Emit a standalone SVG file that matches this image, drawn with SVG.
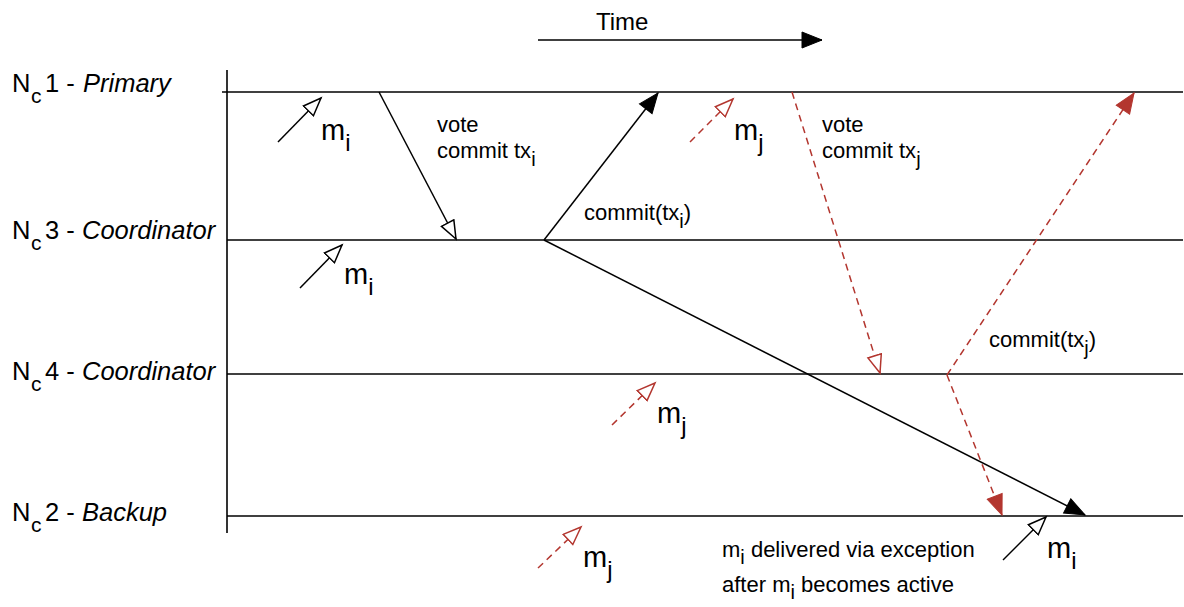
<svg xmlns="http://www.w3.org/2000/svg" width="1184" height="607" viewBox="0 0 1184 607">
<style>
text{font-family:"Liberation Sans",Arial,sans-serif;fill:#000}
.lbl{font-size:25.5px}
.it{font-style:italic}
.msg{font-size:22px}
.m{font-size:29px}
.life{stroke:#000;stroke-width:1.6;fill:none}
.blk{stroke:#000;stroke-width:1.5;fill:none}
.red{stroke:#b3362f;stroke-width:1.5;fill:none;stroke-dasharray:7 5}
</style>
<defs>
<marker id="openB" markerUnits="userSpaceOnUse" markerWidth="22" markerHeight="18" refX="19" refY="8" orient="auto" viewBox="0 0 22 18">
<path d="M1,1 L19,8 L1,15 z" fill="#fff" stroke="#000" stroke-width="1.5"/>
</marker>
<marker id="openR" markerUnits="userSpaceOnUse" markerWidth="22" markerHeight="18" refX="19" refY="8" orient="auto" viewBox="0 0 22 18">
<path d="M1,1 L19,8 L1,15 z" fill="#fff" stroke="#b3362f" stroke-width="1.5"/>
</marker>
<marker id="fillB" markerUnits="userSpaceOnUse" markerWidth="24" markerHeight="20" refX="21" refY="9" orient="auto" viewBox="0 0 24 20">
<path d="M1,1 L21,9 L1,17 z" fill="#000" stroke="#000" stroke-width="1"/>
</marker>
<marker id="fillR" markerUnits="userSpaceOnUse" markerWidth="24" markerHeight="20" refX="21" refY="9" orient="auto" viewBox="0 0 24 20">
<path d="M1,1 L21,9 L1,17 z" fill="#b3362f" stroke="#b3362f" stroke-width="1"/>
</marker>
</defs>
<rect width="1184" height="607" fill="#fff"/>

<g id="time">
<text x="596" y="30" style="font-size:24px">Time</text>
<line x1="538" y1="40" x2="822" y2="40" class="blk" marker-end="url(#fillB)"/>
</g>

<line id="axis" x1="227" y1="70" x2="227" y2="533" class="life"/>

<g id="nc1">
<line x1="222" y1="92" x2="1183" y2="92" class="life"/>
<text x="12" y="92" class="lbl">N<tspan x="31" dy="11" font-size="21">c</tspan><tspan x="45" dy="-11">1 - </tspan><tspan x="83" class="it">Primary</tspan></text>
</g>
<g id="nc3">
<line x1="227" y1="240" x2="1183" y2="240" class="life"/>
<text x="12" y="239" class="lbl">N<tspan x="31" dy="11" font-size="21">c</tspan><tspan x="45" dy="-11">3 -</tspan><tspan x="82" class="it">Coordinator</tspan></text>
</g>
<g id="nc4">
<line x1="227" y1="374" x2="1183" y2="374" class="life"/>
<text x="12" y="380" class="lbl">N<tspan x="31" dy="11" font-size="21">c</tspan><tspan x="45" dy="-11">4 -</tspan><tspan x="82" class="it">Coordinator</tspan></text>
</g>
<g id="nc2">
<line x1="227" y1="516" x2="1183" y2="516" class="life"/>
<text x="12" y="521" class="lbl">N<tspan x="31" dy="11" font-size="21">c</tspan><tspan x="45" dy="-11">2 -</tspan><tspan x="82" class="it">Backup</tspan></text>
</g>

<g id="connectors">
<line x1="278" y1="142" x2="321" y2="98" class="blk" marker-end="url(#openB)"/>
<line x1="379" y1="92" x2="456" y2="239" class="blk" marker-end="url(#openB)"/>
<line x1="300" y1="288" x2="342" y2="245" class="blk" marker-end="url(#openB)"/>
<line x1="544" y1="240" x2="658" y2="93" class="blk" marker-end="url(#fillB)"/>
<line x1="544" y1="240" x2="1085" y2="515" class="blk" marker-end="url(#fillB)"/>
<line x1="1003" y1="560" x2="1046" y2="517" class="blk" marker-end="url(#openB)"/>

<line x1="690" y1="142" x2="733" y2="99" class="red" marker-end="url(#openR)"/>
<line x1="792" y1="92" x2="880" y2="373" class="red" marker-end="url(#openR)"/>
<line x1="947" y1="375" x2="1134" y2="93" class="red" marker-end="url(#fillR)"/>
<line x1="947" y1="375" x2="1002" y2="515" class="red" marker-end="url(#fillR)"/>
<line x1="612" y1="425" x2="655" y2="383" class="red" marker-end="url(#openR)"/>
<line x1="538" y1="568" x2="581" y2="527" class="red" marker-end="url(#openR)"/>
</g>

<g id="labels">
<text x="321" y="140" class="m">m<tspan dy="11" font-size="24">i</tspan></text>
<text x="437" y="132" class="msg">vote</text>
<text x="437" y="158" class="msg">commit tx<tspan dy="8" font-size="20">i</tspan></text>
<text x="344" y="284" class="m">m<tspan dy="11" font-size="24">i</tspan></text>
<text x="584" y="220" class="msg">commit(tx<tspan dy="8" font-size="20">i</tspan><tspan dy="-8">)</tspan></text>
<text x="734" y="140" class="m">m<tspan dy="11" font-size="24">j</tspan></text>
<text x="822" y="132" class="msg">vote</text>
<text x="822" y="158" class="msg">commit tx<tspan dy="8" font-size="20">j</tspan></text>
<text x="989" y="347" class="msg">commit(tx<tspan dy="8" font-size="20">j</tspan><tspan dy="-8">)</tspan></text>
<text x="657" y="423" class="m">m<tspan dy="11" font-size="24">j</tspan></text>
<text x="583" y="567" class="m">m<tspan dy="11" font-size="24">j</tspan></text>
<text x="1047" y="558" class="m">m<tspan dy="11" font-size="24">i</tspan></text>
<text x="722" y="557" class="msg">m<tspan dy="7" font-size="20">i</tspan><tspan dy="-7"> delivered via exception</tspan></text>
<text x="722" y="592" class="msg">after m<tspan dy="7" font-size="20">i</tspan><tspan dy="-7"> becomes active</tspan></text>
</g>
</svg>
